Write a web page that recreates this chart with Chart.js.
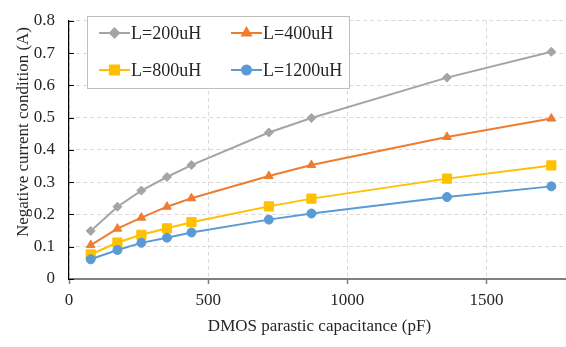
<!DOCTYPE html>
<html>
<head>
<meta charset="utf-8">
<script src="https://cdn.jsdelivr.net/npm/chart.js"></script>
<style>
  html, body { margin: 0; padding: 0; background: #fff; overflow: hidden; }
  #wrap { width: 580px; height: 347px; }
</style>
</head>
<body>
<div id="wrap"><canvas id="myChart" width="580" height="347"></canvas></div>
<script>
// capacitance values (pF) on the x axis
var capacitance = [78, 174, 260, 352, 440, 718, 871, 1358, 1733];
// negative current condition (A) for each inductance
var l200 = [0.149, 0.224, 0.274, 0.316, 0.353, 0.454, 0.499, 0.624, 0.704];
var l400 = [0.105, 0.156, 0.190, 0.224, 0.250, 0.319, 0.353, 0.440, 0.497];
var l800 = [0.076, 0.113, 0.137, 0.157, 0.176, 0.225, 0.249, 0.311, 0.352];
var l1200 = [0.061, 0.090, 0.112, 0.128, 0.144, 0.184, 0.203, 0.254, 0.287];
var seriesNames = ['L=200uH', 'L=400uH', 'L=800uH', 'L=1200uH'];
var xTicks = [0, 500, 1000, 1500];
var yTitle = 'Negative current condition (A)';

var FONT = '"Liberation Serif", "Times New Roman", serif';
Chart.defaults.font.family = FONT;
Chart.defaults.color = '#262626';

function pts(ys) {
  return ys.map(function (y, i) { return { x: capacitance[i], y: y }; });
}

function makeSet(name, ys, color, style, radius, order) {
  return {
    label: name,
    data: pts(ys),
    showLine: true,
    borderColor: color,
    backgroundColor: color,
    borderWidth: 2,
    pointStyle: style,
    pointRadius: radius,
    pointBorderWidth: 1,
    order: order
  };
}

// legend box drawn inside the plot like the excel one, plus y title and inward ticks
var boxLegend = {
  id: 'boxLegend',
  afterDraw: function (chart) {
    var ctx = chart.ctx;
    ctx.save();
    ctx.fillStyle = '#fff';
    ctx.strokeStyle = '#bfbfbf';
    ctx.lineWidth = 1;
    ctx.fillRect(87.5, 16.5, 262, 72);
    ctx.strokeRect(87.5, 16.5, 262, 72);
    var cols = [99, 231];
    var rows = [33, 70];
    chart.data.datasets.forEach(function (ds, i) {
      var x = cols[i % 2], y = rows[Math.floor(i / 2)];
      ctx.strokeStyle = ds.borderColor;
      ctx.lineWidth = 2;
      ctx.beginPath();
      ctx.moveTo(x, y);
      ctx.lineTo(x + 31, y);
      ctx.stroke();
      ctx.fillStyle = ds.backgroundColor;
      Chart.helpers.drawPoint(ctx, {
        pointStyle: ds.pointStyle, radius: ds.pointRadius, rotation: 0, borderWidth: 1
      }, x + 15.5, y);
      ctx.fillStyle = '#262626';
      ctx.font = '18px ' + FONT;
      ctx.textBaseline = 'middle';
      ctx.textAlign = 'left';
      ctx.fillText(ds.label, x + 32, y + 1);
    });
    // inward tick marks on the y axis
    var ys = chart.scales.y, area = chart.chartArea;
    ctx.strokeStyle = '#000';
    ctx.lineWidth = 1;
    ys.ticks.forEach(function (t) {
      var py = Math.round(ys.getPixelForValue(t.value)) + 0.5;
      ctx.beginPath();
      ctx.moveTo(area.left, py);
      ctx.lineTo(area.left + 5, py);
      ctx.stroke();
    });
    // y axis title, sits a bit above the plot centre in the original
    ctx.translate(24, 132);
    ctx.rotate(-Math.PI / 2);
    ctx.fillStyle = '#262626';
    ctx.font = '17px ' + FONT;
    ctx.textAlign = 'center';
    ctx.textBaseline = 'middle';
    ctx.fillText(yTitle, 0, 0);
    ctx.restore();
  }
};

var ctx = document.getElementById('myChart').getContext('2d');
var chart = new Chart(ctx, {
  type: 'scatter',
  data: {
    datasets: [
      makeSet(seriesNames[0], l200, '#a5a5a5', 'rectRot', 4.5, 4),
      makeSet(seriesNames[1], l400, '#ed7d31', 'triangle', 5, 3),
      makeSet(seriesNames[2], l800, '#ffc000', 'rect', 6.5, 2),
      makeSet(seriesNames[3], l1200, '#5b9bd5', 'circle', 4.5, 1)
    ]
  },
  options: {
    responsive: false,
    animation: false,
    layout: { padding: { top: 7, right: 10, left: 0, bottom: 0 } },
    plugins: { legend: { display: false }, tooltip: { enabled: false } },
    scales: {
      x: {
        type: 'linear',
        min: 0,
        max: 1800,
        afterBuildTicks: function (scale) {
          scale.ticks = xTicks.map(function (v) { return { value: v }; });
        },
        afterFit: function (scale) { scale.height = 68; },
        ticks: {
          autoSkip: false,
          maxRotation: 0,
          padding: 6,
          color: '#262626',
          font: { family: FONT, size: 17 },
          callback: function (v) { return String(v); }
        },
        grid: {
          color: '#d9d9d9',
          lineWidth: 1,
          drawTicks: true,
          tickLength: 5,
          tickColor: '#7f7f7f',
          tickWidth: 1.5
        },
        border: { color: '#7f7f7f', width: 2, dash: [4, 3] },
        title: {
          display: true,
          text: 'DMOS parastic capacitance (pF)',
          color: '#262626',
          font: { family: FONT, size: 17 },
          padding: { top: 0, bottom: 10 }
        }
      },
      y: {
        min: 0,
        max: 0.8,
        afterFit: function (scale) { scale.width = 69; },
        ticks: {
          stepSize: 0.1,
          autoSkip: false,
          padding: 14,
          color: '#262626',
          font: { family: FONT, size: 17, lineHeight: 0.8 },
          callback: function (v) { return v === 0 ? '0' : v.toFixed(1); }
        },
        grid: {
          color: '#d9d9d9',
          lineWidth: 1,
          drawTicks: false
        },
        border: { color: '#000', width: 1.2, dash: [4, 3] },
        title: { display: false }
      }
    }
  },
  plugins: [boxLegend]
});
</script>
</body>
</html>
